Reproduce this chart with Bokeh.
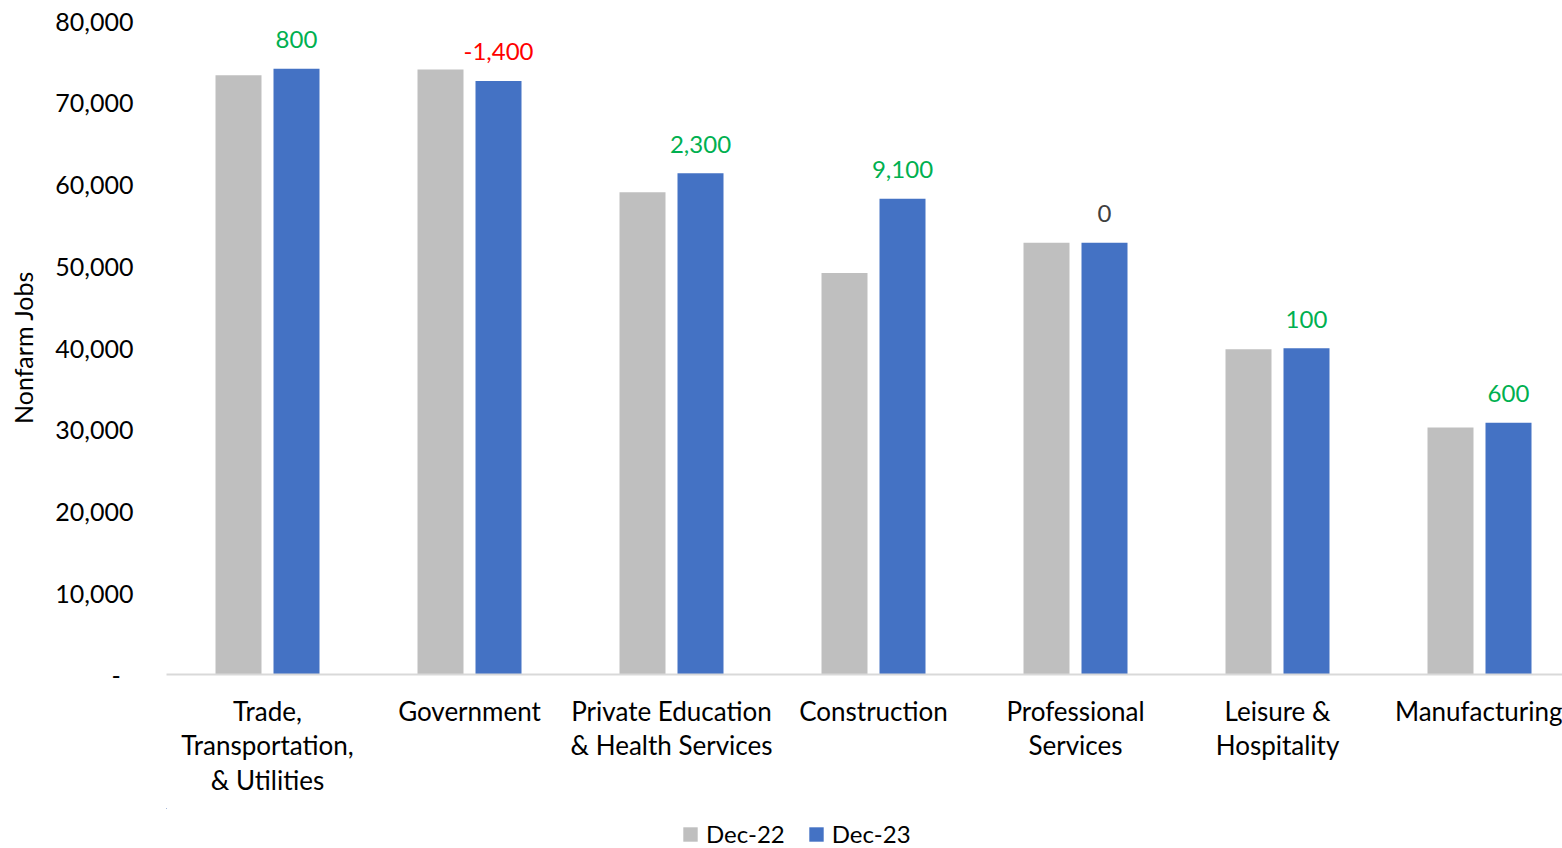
from bokeh.plotting import figure
from bokeh.models import (ColumnDataSource, Range1d, FixedTicker, NumeralTickFormatter,
                          LabelSet, Legend, LegendItem)
from bokeh.layouts import column
from bokeh.core.properties import value
from bokeh.transform import dodge
from bokeh.embed import file_html
from bokeh.resources import INLINE

categories = ["Trade,\nTransportation,\n& Utilities", "Government",
              "Private Education\n& Health Services", "Construction",
              "Professional\nServices", "Leisure &\nHospitality", "Manufacturing"]
dec22 = [73300, 74000, 59000, 49100, 52800, 39800, 30200]
dec23 = [74100, 72600, 61300, 58200, 52800, 39900, 30800]
changes = [800, -1400, 2300, 9100, 0, 100, 600]
series_names = ["Dec-22", "Dec-23"]
y_ticks = [0, 10000, 20000, 30000, 40000, 50000, 60000, 70000, 80000]

FONT = "Lato"
GRAY = "#BFBFBF"
BLUE = "#4472C4"

idx = list(range(len(categories)))
def lab_color(c):
    return "#00B050" if c > 0 else ("#FF0000" if c < 0 else "#404040")

src = ColumnDataSource(dict(
    x=idx, dec22=dec22, dec23=dec23,
    lab=[f"{c:,}" for c in changes],
    col=[lab_color(c) for c in changes],
))

W = 1562
LEG_H = 40
H = 848 - LEG_H
FRAME_L, FRAME_R = 166, 1562
FRAME_T, FRAME_B = 20, 674
CAT_W = 202.0
p = figure(width=W, height=H, output_backend="svg", toolbar_location=None,
           x_range=Range1d(-0.5, -0.5 + (FRAME_R - FRAME_L) / CAT_W),
           y_range=Range1d(0, 80000),
           min_border_left=FRAME_L, min_border_right=0, min_border_top=FRAME_T,
           min_border_bottom=H - FRAME_B)
p.outline_line_color = None
p.xgrid.visible = False
p.ygrid.visible = False

bw = 46 / CAT_W
off = 29 / CAT_W
r1 = p.vbar(x=dodge("x", -off), top="dec22", width=bw, source=src, color=GRAY, line_color=None)
r2 = p.vbar(x=dodge("x", off), top="dec23", width=bw, source=src, color=BLUE, line_color=None)

labels = LabelSet(x=dodge("x", off), y="dec23", text="lab", source=src,
                  text_color="col", text_font=value(FONT), text_font_size="24px",
                  text_align="center", text_baseline="middle", y_offset=29)
p.add_layout(labels)

# x axis
p.xaxis.ticker = FixedTicker(ticks=idx)
p.xaxis.major_label_overrides = {i: c for i, c in enumerate(categories)}
p.xaxis.axis_line_color = "#D9D9D9"
p.xaxis.axis_line_width = 2
p.xaxis.major_tick_line_color = None
p.xaxis.minor_tick_line_color = None
p.xaxis.major_label_text_font = FONT
p.xaxis.major_label_text_font_size = "26px"
p.xaxis.major_label_text_color = "#000000"
p.xaxis.major_label_text_line_height = 1.08
p.xaxis.major_label_standoff = 14

# y axis
p.yaxis.ticker = FixedTicker(ticks=y_ticks)
p.yaxis.formatter = NumeralTickFormatter(format="0,0")
p.yaxis.major_label_overrides = {0: "-\u00a0\u00a0"}
p.yaxis.axis_line_color = None
p.yaxis.major_tick_line_color = None
p.yaxis.minor_tick_line_color = None
p.yaxis.major_label_text_font = FONT
p.yaxis.major_label_text_font_size = "25px"
p.yaxis.major_label_text_color = "#000000"
p.yaxis.major_label_standoff = 27
p.yaxis.axis_label = "Nonfarm Jobs"
p.yaxis.axis_label_text_font = FONT
p.yaxis.axis_label_text_font_size = "25px"
p.yaxis.axis_label_text_font_style = "normal"
p.yaxis.axis_label_text_color = "#000000"
p.yaxis.axis_label_standoff = 14

# legend strip (its own small figure; the bars there are outside its view)
lf = figure(width=W, height=LEG_H, output_backend="svg", toolbar_location=None,
            x_range=Range1d(100, 101), y_range=Range1d(-2, -1),
            x_axis_type=None, y_axis_type=None, min_border=0)
lf.outline_line_color = None
lf.xgrid.visible = False
lf.ygrid.visible = False
l1 = lf.vbar(x="x", top="dec22", width=bw, source=src, color=GRAY, line_color=None)
l2 = lf.vbar(x="x", top="dec23", width=bw, source=src, color=BLUE, line_color=None)
legend = Legend(items=[LegendItem(label=series_names[0], renderers=[l1]),
                       LegendItem(label=series_names[1], renderers=[l2])],
                orientation="horizontal", location=(515, 0),
                glyph_width=18, glyph_height=18, label_standoff=7, spacing=22,
                padding=0, margin=0, border_line_color=None, background_fill_alpha=0,
                label_text_font=FONT, label_text_font_size="24px", label_text_color="#000000")
lf.add_layout(legend, "center")

layout = column(p, lf, spacing=0)
open("out.html", "w").write(file_html(layout, INLINE))
